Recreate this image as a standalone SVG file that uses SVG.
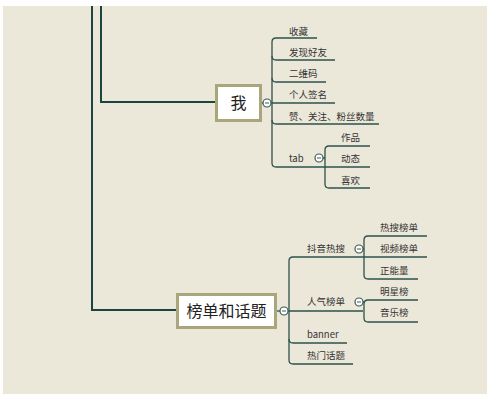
<svg xmlns="http://www.w3.org/2000/svg" width="500" height="409" viewBox="0 0 500 409">
<style>
.main{fill:none;stroke:#1b4640;stroke-width:2}
.br{fill:none;stroke:#2e524c;stroke-width:1.3}
.box{fill:#fff;stroke:#a9a67c;stroke-width:3}
.t{font-family:"Noto Sans CJK SC","Noto Sans",sans-serif;font-size:9.5px;fill:#333}
.big{font-family:"Noto Sans CJK SC","Noto Sans",sans-serif;fill:#222}
.c{fill:#fff;stroke:#3b5a55;stroke-width:1.2}
.m{stroke:#3b5a55;stroke-width:1}
</style>
<rect x="0" y="0" width="500" height="409" fill="#fff"/>
<rect x="3" y="6" width="484" height="388" fill="#ebe8da"/>
<g id="connectors">
<path class="main" d="M92,6 V310 H176"/>
<path class="main" d="M101,6 V102 H215"/>
<path class="br" d="M262,103 H272"/>
<path class="br" d="M317,38 H276 Q272,38 272,42 V163 Q272,167 276,167 H370"/>
<path class="br" d="M272,56 Q272,60 276,60 H335"/>
<path class="br" d="M272,78 Q272,82 276,82 H326"/>
<path class="br" d="M272,103 H335"/>
<path class="br" d="M272,120 Q272,124 276,124 H379"/>
<path class="br" d="M323,158 H325"/>
<path class="br" d="M370,146 H329 Q325,146 325,150 V184 Q325,188 329,188 H370"/>
<path class="br" d="M277,311 H289"/>
<path class="br" d="M427,257 H293 Q289,257 289,261 V360 Q289,364 293,364 H353"/>
<path class="br" d="M289,311 H363"/>
<path class="br" d="M289,339 Q289,343 293,343 H347"/>
<path class="br" d="M363,249 H364"/>
<path class="br" d="M427,236 H368 Q364,236 364,240 V275 Q364,279 368,279 H418"/>
<path class="br" d="M363,302 H364"/>
<path class="br" d="M418,300 H368 Q364,300 364,304 V318 Q364,322 368,322 H418"/>
</g>
<g id="node-wo">
<rect class="box" x="216.5" y="85.5" width="44" height="35"/>
<text class="big" x="238.5" y="109" font-size="16" text-anchor="middle">我</text>
<circle class="c" cx="267" cy="103" r="4"/><path class="m" d="M265,103 H269"/>
</g>
<g id="node-shoucang"><text class="t" x="289" y="35">收藏</text></g>
<g id="node-faxian"><text class="t" x="289" y="56">发现好友</text></g>
<g id="node-erweima"><text class="t" x="289" y="77">二维码</text></g>
<g id="node-qianming"><text class="t" x="289" y="98">个人签名</text></g>
<g id="node-zan"><text class="t" x="289" y="120">赞、关注、粉丝数量</text></g>
<g id="node-tab"><text class="t" x="289" y="162" font-family="'Open Sans',sans-serif">tab</text>
<circle class="c" cx="319" cy="158" r="4"/><path class="m" d="M317,158 H321"/></g>
<g id="node-zuopin"><text class="t" x="341" y="141">作品</text></g>
<g id="node-dongtai"><text class="t" x="341" y="162">动态</text></g>
<g id="node-xihuan"><text class="t" x="341" y="184">喜欢</text></g>
<g id="node-bangdan">
<rect class="box" x="177.5" y="294.5" width="98" height="33"/>
<text class="big" x="226.5" y="317" font-size="16" text-anchor="middle">榜单和话题</text>
<circle class="c" cx="284" cy="311" r="4"/><path class="m" d="M282,311 H286"/>
</g>
<g id="node-resou"><text class="t" x="307" y="252">抖音热搜</text>
<circle class="c" cx="359" cy="249" r="4"/><path class="m" d="M357,249 H361"/></g>
<g id="node-resoubang"><text class="t" x="380" y="231">热搜榜单</text></g>
<g id="node-shipin"><text class="t" x="380" y="252">视频榜单</text></g>
<g id="node-zhengneng"><text class="t" x="380" y="274">正能量</text></g>
<g id="node-renqi"><text class="t" x="307" y="305">人气榜单</text>
<circle class="c" cx="359" cy="302" r="4"/><path class="m" d="M357,302 H361"/></g>
<g id="node-mingxing"><text class="t" x="380" y="295">明星榜</text></g>
<g id="node-yinyue"><text class="t" x="380" y="316">音乐榜</text></g>
<g id="node-banner"><text class="t" x="307" y="338" font-family="'Open Sans',sans-serif">banner</text></g>
<g id="node-huati"><text class="t" x="307" y="359">热门话题</text></g>
</svg>
